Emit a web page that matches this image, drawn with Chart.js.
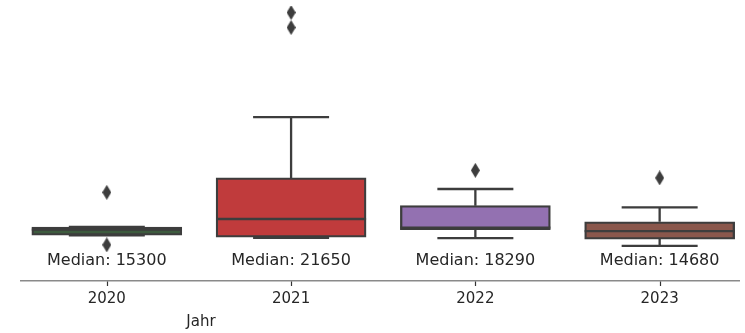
<!DOCTYPE html>
<html>
<head>
<meta charset="utf-8">
<script src="https://cdn.jsdelivr.net/npm/chart.js@4/dist/chart.umd.min.js"></script>
<style>
  html, body { margin: 0; padding: 0; background: #ffffff; }
  #wrap { width: 745px; height: 333px; position: relative; }
</style>
</head>
<body>
<div id="wrap"><canvas id="c" width="745" height="333"></canvas></div>
<script>
// ---- data ----
const categories   = ['2020', '2021', '2022', '2023'];
const q1           = [12000, 10900, 15300,  9700];
const q3           = [16900, 46100, 29600, 20000];
const medians      = [15300, 21650, 16500, 14400];
const whiskerLow   = [12000, 10500, 10300,  5700];
const whiskerHigh  = [16900, 82200, 39500, 28600];
const outlierYear  = [0, 0, 1, 1, 2, 3];
const outlierValue = [37500, 6300, 144400, 135500, 50600, 46100];
const medianLabels = ['Median: 15300', 'Median: 21650', 'Median: 18290', 'Median: 14680'];
const xTitle = 'Jahr';

const boxColors = ['#3d5b3e', '#c03b3c', '#9371b1', '#8a574c'];
const lineColor = '#3d3d3d';

Chart.defaults.font.family = "'DejaVu Sans', sans-serif";

// thin diamond marker like matplotlib 'd'
const diamond = document.createElement('canvas');
diamond.width = 9; diamond.height = 15;
(function () {
  const g = diamond.getContext('2d');
  g.fillStyle = lineColor;
  g.beginPath();
  g.moveTo(4.5, 0); g.lineTo(9, 7.5); g.lineTo(4.5, 15); g.lineTo(0, 7.5);
  g.closePath(); g.fill();
})();

const boxPlugin = {
  id: 'boxParts',
  afterDatasetsDraw(chart) {
    const ctx = chart.ctx, xs = chart.scales.x, ys = chart.scales.y;
    const capHalf = 38, boxHalf = 75;
    ctx.save();
    ctx.strokeStyle = lineColor;
    ctx.lineWidth = 2.3;
    ctx.lineCap = 'butt';
    categories.forEach((c, i) => {
      const cx = xs.getPixelForValue(i);
      const yLo = ys.getPixelForValue(whiskerLow[i]);
      const yHi = ys.getPixelForValue(whiskerHigh[i]);
      const yQ1 = ys.getPixelForValue(q1[i]);
      const yQ3 = ys.getPixelForValue(q3[i]);
      const yMed = ys.getPixelForValue(medians[i]);
      ctx.beginPath();
      ctx.moveTo(cx, yQ3); ctx.lineTo(cx, yHi);
      ctx.moveTo(cx, yQ1); ctx.lineTo(cx, yLo);
      ctx.moveTo(cx - capHalf, yHi); ctx.lineTo(cx + capHalf, yHi);
      ctx.moveTo(cx - capHalf, yLo); ctx.lineTo(cx + capHalf, yLo);
      ctx.moveTo(cx - boxHalf, yMed); ctx.lineTo(cx + boxHalf, yMed);
      ctx.stroke();
      ctx.fillStyle = '#262626';
      ctx.font = "16px 'DejaVu Sans'";
      ctx.textAlign = 'center';
      ctx.textBaseline = 'middle';
      ctx.fillText(medianLabels[i], cx, 261);
    });
    ctx.fillStyle = '#262626';
    ctx.font = "15px 'DejaVu Sans'";
    ctx.textAlign = 'center';
    ctx.textBaseline = 'middle';
    ctx.fillText(xTitle, 201, 322);
    ctx.restore();
  },
  afterDraw(chart) {
    const ctx = chart.ctx, xs = chart.scales.x;
    const b = chart.chartArea.bottom;
    ctx.save();
    ctx.strokeStyle = '#333333';
    ctx.lineWidth = 1.2;
    categories.forEach((c, i) => {
      const px = Math.round(xs.getPixelForValue(i)) + 0.5;
      ctx.beginPath();
      ctx.moveTo(px, b + 0.5);
      ctx.lineTo(px, b + 5);
      ctx.stroke();
    });
    ctx.restore();
  }
};

new Chart(document.getElementById('c'), {
  type: 'bar',
  data: {
    datasets: [
      {
        type: 'bar',
        data: categories.map((c, i) => ({ x: i, y: [q1[i], q3[i]] })),
        backgroundColor: boxColors,
        borderColor: lineColor,
        borderWidth: 2.3,
        borderSkipped: false,
        barThickness: 150,
        order: 2
      },
      {
        type: 'scatter',
        data: outlierYear.map((yr, k) => ({ x: yr, y: outlierValue[k] })),
        pointStyle: diamond,
        pointRadius: 5,
        order: 1
      }
    ]
  },
  options: {
    responsive: false,
    animation: false,
    events: [],
    layout: { padding: { left: 21, right: 0, top: 0, bottom: 0 } },
    plugins: { legend: { display: false }, tooltip: { enabled: false } },
    scales: {
      x: {
        type: 'linear',
        min: -0.4656,
        max: 3.4306,
        offset: false,
        afterBuildTicks(scale) { scale.ticks = categories.map((c, i) => ({ value: i })); },
        afterFit(scale) { scale.height = 52; },
        ticks: {
          callback: (v) => categories[v],
          color: '#262626',
          font: { size: 15 },
          padding: 4,
          maxRotation: 0,
          autoSkip: false
        },
        grid: { offset: false, drawOnChartArea: false, drawTicks: true, tickLength: 5, color: 'rgba(0,0,0,0)', lineWidth: 1 },
        border: { display: true, color: '#8a8a8a', width: 1.5 }
      },
      y: {
        display: false,
        min: -15200,
        max: 148300
      }
    }
  },
  plugins: [boxPlugin]
});
</script>
</body>
</html>
